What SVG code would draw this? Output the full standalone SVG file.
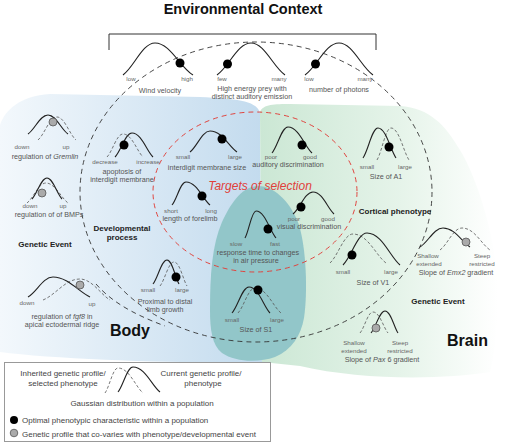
<svg xmlns="http://www.w3.org/2000/svg" width="505" height="443" viewBox="0 0 505 443">
<defs>
<linearGradient id="gBlue" x1="0" y1="0" x2="1" y2="0">
<stop offset="0" stop-color="#f3f8fc"/>
<stop offset="1" stop-color="#c3dbee"/>
</linearGradient>
<linearGradient id="gGreen" x1="0" y1="0" x2="1" y2="0">
<stop offset="0" stop-color="#cbe7d4"/>
<stop offset="0.6" stop-color="#e6f4ea"/>
<stop offset="1" stop-color="#ffffff"/>
</linearGradient>
<style>
text{font-family:"Liberation Sans",Arial,sans-serif}
.t{font-size:14.5px;font-weight:bold;fill:#111;text-anchor:middle}
.b{font-size:8px;font-weight:bold;fill:#222;text-anchor:middle}
.d{font-size:7.2px;fill:#555;text-anchor:middle}
.s{font-size:6.2px;fill:#666;text-anchor:middle}
.k{font-size:16px;font-weight:bold;fill:#111}
.r{font-size:12px;font-style:italic;fill:#e0403a;text-anchor:middle}
.lg{font-size:8px;fill:#444}
.lgm{font-size:8px;fill:#444;text-anchor:middle}
.sol{fill:none;stroke:#222;stroke-width:1.1}
.das{fill:none;stroke:#555;stroke-width:0.8;stroke-dasharray:3 2}
.dot{fill:#000}
.gdot{fill:#aaa;stroke:#555;stroke-width:0.8}
.env{fill:none;stroke:#333;stroke-width:0.9;stroke-dasharray:5 4}
.sel{fill:none;stroke:#e0453f;stroke-width:1;stroke-dasharray:5 4}
</style>
</defs>
<rect width="505" height="443" fill="#fff"/>

<g id="regions">
<path d="M0 125 C5 110 20 96 50 94 L200 97 C235 99 255 100 260 112 L262 362 C200 364 60 360 0 352 Z" fill="url(#gBlue)"/>
<path d="M260 112 C263 104 275 104 290 104 L400 106 C430 108 445 125 460 150 C478 180 492 230 496 265 C500 310 496 350 490 372 C440 380 360 380 300 366 L262 362 Z" fill="url(#gGreen)"/>
<path d="M258 186 C276 186 292 205 299 225 C306 248 308 290 304 318 C301 335 292 350 275 357 C258 363 235 362 222 353 C212 345 210 330 210 310 C210 275 212 245 222 222 C232 200 244 186 258 186 Z" fill="#92c6c9"/>
</g>

<g id="title"><text class="t" x="243" y="14">Environmental Context</text></g>

<g id="connectors">
<path d="M109 50 V34 H376 V50" fill="none" stroke="#333" stroke-width="1"/>
<ellipse class="env" cx="256" cy="192" rx="176" ry="150"/>
<path class="env" d="M96 284 C110 300 130 313 165 326"/>
<ellipse class="sel" cx="255" cy="192" rx="102" ry="80"/>
</g>

<g id="wind">
<path class="sol" d="M123 75 C134.2 67 142.2 43 155 43 C170.2 43 179.7 67 193 75"/>
<circle class="dot" cx="180" cy="63" r="4.5"/>
<text class="s" x="131" y="81">low</text><text class="s" x="187" y="81">high</text>
<text class="d" x="160" y="93">Wind velocity</text>
</g>
<g id="prey">
<path class="sol" d="M217 75 C228.9 67 237.4 43 251 43 C264.6 43 273.1 67 285 75"/>
<circle class="dot" cx="227.5" cy="64" r="4.5"/>
<text class="s" x="222" y="81">few</text><text class="s" x="279" y="81">many</text>
<text class="d" x="252" y="91">High energy prey with</text>
<text class="d" x="252" y="99">distinct auditory emission</text>
</g>
<g id="photons">
<path class="sol" d="M305 75 C316.9 67 325.4 43 339 43 C352.6 43 361.1 67 373 75"/>
<circle class="dot" cx="315.5" cy="64" r="4.5"/>
<text class="s" x="309" y="81">low</text><text class="s" x="365" y="81">many</text>
<text class="d" x="339" y="92">number of photons</text>
</g>

<g id="gremlin">
<path class="das" d="M38 140 C44.65 134.25 49.4 117 57 117 C64.6 117 69.35 134.25 76 140"/>
<path class="sol" d="M28 134 C35 129.25 40 115 48 115 C56 115 61 129.25 68 134"/>
<circle class="gdot" cx="53" cy="122" r="4"/>
<text class="s" x="22" y="149">down</text><text class="s" x="66" y="149">up</text>
<text class="d" x="45" y="159">regulation of <tspan font-style="italic">Gremlin</tspan></text>
</g>
<g id="bmps">
<path class="das" d="M27 203 C33.65 198 38.4 183 46 183 C54.8 183 61.4 198 68 203"/>
<path class="sol" d="M32 199 C37.25 193.75 41 178 47 178 C53 178 56.75 193.75 62 199"/>
<circle class="gdot" cx="42" cy="193" r="4"/>
<text class="s" x="30" y="208">down</text><text class="s" x="63" y="208">up</text>
<text class="d" x="49" y="217">regulation of of BMPs</text>
</g>
<g id="genetic-left"><text class="b" x="45" y="247">Genetic Event</text></g>
<g id="fgf8">
<path class="das" d="M43 300 C55.95 294.75 65.2 279 80 279 C92 279 101 294.75 110 300"/>
<path class="sol" d="M28 297 C36.75 292 43 277 53 277 C67.8 277 78.9 292 90 297"/>
<circle class="gdot" cx="80" cy="285" r="4"/>
<text class="s" x="27" y="305">down</text><text class="s" x="92" y="306">up</text>
<text class="d" x="62" y="319">regulation of <tspan font-style="italic">fgf8</tspan> in</text>
<text class="d" x="62" y="327">apical ectodermal ridge</text>
</g>

<g id="apoptosis">
<path class="das" d="M107 157 C112.6 151.25 116.6 134 123 134 C132 134 137 151.25 143 157"/>
<path class="sol" d="M115 157 C120.95 151 125.2 133 132 133 C141.45 133 146.7 151 153 157"/>
<circle class="dot" cx="124" cy="145" r="4.5"/>
<text class="s" x="105" y="164">decrease</text><text class="s" x="148" y="164">increase</text>
<text class="d" x="122" y="174">apoptosis of</text>
<text class="d" x="122" y="182">interdigit membrane</text>
</g>
<g id="developmental"><text class="b" x="122" y="231">Developmental</text><text class="b" x="122" y="240">process</text></g>
<g id="proximal">
<path class="das" d="M160 286 C164.9 280 168.4 262 174 262 C179.85 262 183.1 280 187 286"/>
<path class="sol" d="M153 284 C157.9 278 161.4 260 167 260 C172.4 260 175.4 278 179 284"/>
<circle class="dot" cx="176" cy="277" r="4.5"/>
<text class="s" x="148" y="292">small</text><text class="s" x="182" y="292">large</text>
<text class="d" x="165" y="304">Proximal to distal</text>
<text class="d" x="165" y="312">limb growth</text>
</g>

<g id="interdigit">
<path class="sol" d="M190 152 C197 146.75 202 131 210 131 C222.15 131 228.9 146.75 237 152"/>
<circle class="dot" cx="222" cy="139" r="4.5"/>
<text class="s" x="183" y="159">small</text><text class="s" x="235" y="159">large</text>
<text class="d" x="207" y="170">interdigit membrane size</text>
</g>
<g id="forelimb">
<path class="sol" d="M172 205 C176.9 199.25 180.4 182 186 182 C196.8 182 202.8 199.25 210 205"/>
<circle class="dot" cx="202" cy="196" r="4.5"/>
<text class="s" x="171" y="213">short</text><text class="s" x="211" y="213">long</text>
<text class="d" x="190" y="221">length of forelimb</text>
</g>
<g id="auditory">
<path class="sol" d="M272 153 C277.6 146.5 281.6 127 288 127 C298.8 127 304.8 146.5 312 153"/>
<circle class="dot" cx="302" cy="145" r="4.5"/>
<text class="s" x="271" y="159">poor</text><text class="s" x="310" y="159">good</text>
<text class="d" x="288" y="167">auditory discrimination</text>
</g>
<g id="targets"><text class="r" x="260" y="190">Targets of selection</text></g>
<g id="visual">
<path class="sol" d="M293 214 C300 208.5 305 192 313 192 C322.45 192 327.7 208.5 334 214"/>
<circle class="dot" cx="301" cy="207" r="4.5"/>
<text class="s" x="294" y="221">poor</text><text class="s" x="328" y="221">good</text>
<text class="d" x="309" y="229">visual discrimination</text>
</g>
<g id="response">
<path class="sol" d="M245 238 C248.85 231.25 251.6 211 256 211 C265 211 270 231.25 276 238"/>
<circle class="dot" cx="268" cy="229" r="4.5"/>
<text class="s" x="236" y="246">slow</text><text class="s" x="275" y="246">fast</text>
<text class="d" x="258" y="255">response time to changes</text>
<text class="d" x="256" y="263">in air pressure</text>
</g>
<g id="s1">
<path class="das" d="M238 313 C243.95 306.75 248.2 288 255 288 C266.7 288 273.2 306.75 281 313"/>
<path class="sol" d="M232 313 C237.95 306.5 242.2 287 249 287 C258.45 287 263.7 306.5 270 313"/>
<circle class="dot" cx="258" cy="290" r="4.5"/>
<text class="s" x="232" y="322">small</text><text class="s" x="277" y="322">large</text>
<text class="d" x="256" y="332">Size of S1</text>
</g>

<g id="a1">
<path class="das" d="M377 160 C381.9 152 385.4 128 391 128 C399.1 128 403.6 152 409 160"/>
<path class="sol" d="M363 158 C368.25 150.5 372 128 378 128 C386.1 128 390.6 150.5 396 158"/>
<circle class="dot" cx="389" cy="147" r="4.5"/>
<text class="s" x="367" y="169">small</text><text class="s" x="405" y="169">large</text>
<text class="d" x="386" y="179">Size of A1</text>
</g>
<g id="cortical"><text class="b" x="395" y="214">Cortical phenotype</text></g>
<g id="v1">
<path class="das" d="M330 263 C338.05 255.75 343.8 234 353 234 C367.85 234 376.1 255.75 386 263"/>
<path class="sol" d="M343 265 C351.4 257 357.4 233 367 233 C381.85 233 390.1 257 400 265"/>
<circle class="dot" cx="352" cy="255" r="4.5"/>
<text class="s" x="343" y="274">small</text><text class="s" x="391" y="274">large</text>
<text class="d" x="373" y="285">Size of V1</text>
</g>
<g id="emx2">
<path class="das" d="M440 250 C447.7 244.5 453.2 228 462 228 C474.6 228 481.6 244.5 490 250"/>
<path class="sol" d="M420 247 C428.05 242.25 433.8 228 443 228 C455.15 228 461.9 242.25 470 247"/>
<circle class="gdot" cx="466" cy="242" r="4"/>
<text class="s" x="428" y="258">Shallow</text><text class="s" x="429" y="266">extended</text>
<text class="s" x="482" y="258">Steep</text><text class="s" x="482" y="266">restricted</text>
<text class="d" x="456" y="275">Slope of <tspan font-style="italic">Emx2</tspan> gradient</text>
</g>
<g id="genetic-right"><text class="b" x="438" y="304">Genetic Event</text></g>
<g id="pax6">
<path class="das" d="M360 333 C364.55 327.75 367.8 312 373 312 C379.75 312 383.5 327.75 388 333"/>
<path class="sol" d="M371 333 C375.9 327.5 379.4 311 385 311 C390.85 311 394.1 327.5 398 333"/>
<circle class="gdot" cx="376" cy="328" r="4"/>
<text class="s" x="354" y="345">Shallow</text><text class="s" x="354" y="353">extended</text>
<text class="s" x="400" y="345">Steep</text><text class="s" x="400" y="353">restricted</text>
<text class="d" x="382" y="362">Slope of <tspan font-style="italic">Pax</tspan> 6 gradient</text>
</g>
<g id="body"><text class="k" x="110" y="336">Body</text></g>
<g id="brain"><text class="k" x="447" y="346">Brain</text></g>

<g id="legend">
<rect x="4.5" y="362.5" width="266" height="79" fill="#fff" stroke="#999" stroke-width="1"/>
<text class="lgm" x="63" y="376">Inherited genetic profile/</text>
<text class="lgm" x="63" y="386">selected phenotype</text>
<path class="das" d="M105 393 C109.55 386.75 112.8 368 118 368 C129.25 368 135.5 386.75 143 393"/>
<path class="sol" d="M118 392 C123.25 385.75 127 367 133 367 C145.15 367 151.9 385.75 160 392"/>
<text class="lgm" x="201" y="376">Current genetic profile/</text>
<text class="lgm" x="203" y="386">phenotype</text>
<text class="lgm" x="142" y="406">Gaussian distribution within a population</text>
<circle class="dot" cx="14" cy="420" r="4"/>
<text class="lg" x="22" y="423">Optimal phenotypic characteristic within a population</text>
<circle class="gdot" cx="14" cy="433" r="3.8"/>
<text class="lg" x="22" y="437">Genetic profile that co-varies with phenotype/developmental event</text>
</g>
</svg>
